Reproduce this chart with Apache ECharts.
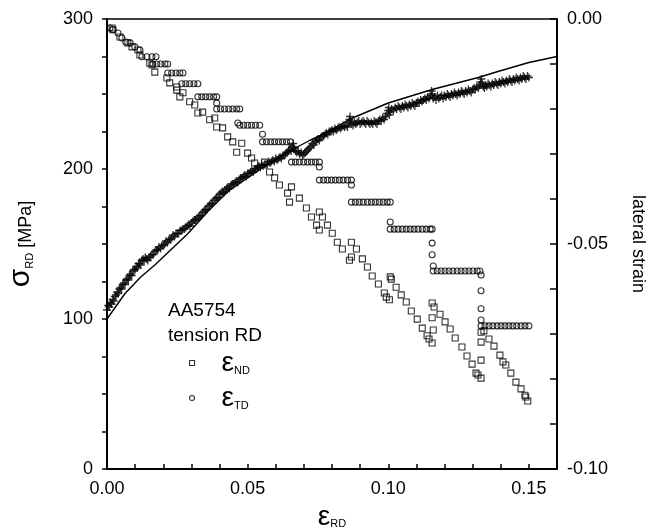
<!DOCTYPE html>
<html><head><meta charset="utf-8">
<script src="https://cdn.jsdelivr.net/npm/echarts@6/dist/echarts.min.js"></script>
<style>html,body{margin:0;padding:0;background:#fff}#c{width:648px;height:529px}</style>
</head><body><div id="c"></div>
<script>
const xTickLabels = ['0.00', '0.05', '0.10', '0.15'];
const leftTickLabels = ['0', '100', '200', '300'];
const rightTickLabels = ['-0.10', '-0.05', '0.00'];
const legendTitle = ['AA5754', 'tension RD'];

// model stress-strain curve [eps_RD, sigma_RD]
const modelCurve = [[0,100],[0.0064,117],[0.012,128],[0.017,136],[0.0288,157],[0.036,172],[0.043,185],[0.050,194],[0.057,203],[0.065,212],[0.072,219],[0.079,225],[0.086,233],[0.100,244],[0.1156,253],[0.132,261],[0.139,265],[0.150,271],[0.160,275]];

// measured stress (crosses) [eps_RD, sigma_RD]
const measuredStress = [[0.0000,106],[0.0004,109],[0.0008,108],[0.0012,111],[0.0016,110],[0.0020,113],[0.0024,112],[0.0028,115],[0.0032,116],[0.0036,118],[0.0040,117],[0.0044,120],[0.0048,121],[0.0052,120],[0.0056,123],[0.0060,124],[0.0064,123],[0.0068,126],[0.0072,127],[0.0076,126],[0.0080,129],[0.0084,130],[0.0088,129],[0.0092,132],[0.0096,133],[0.0100,133],[0.0104,135],[0.0108,134],[0.0112,137],[0.0116,137],[0.0120,136],[0.0124,139],[0.0128,140],[0.0132,139],[0.0136,141],[0.0140,140],[0.0145,139],[0.0150,141],[0.0155,142],[0.0160,143],[0.0165,143],[0.0170,145],[0.0175,146],[0.0180,146],[0.0185,148],[0.0190,147],[0.0195,149],[0.0200,149],[0.0205,150],[0.0210,152],[0.0215,151],[0.0220,153],[0.0225,153],[0.0230,154],[0.0235,156],[0.0240,155],[0.0245,157],[0.0250,157],[0.0255,157],[0.0260,159],[0.0265,159],[0.0270,160],[0.0275,160],[0.0280,161],[0.0285,162],[0.0290,163],[0.0295,162],[0.0300,164],[0.0305,165],[0.0310,166],[0.0315,166],[0.0320,167],[0.0325,168],[0.0330,169],[0.0335,169],[0.0340,171],[0.0345,172],[0.0350,173],[0.0355,173],[0.0360,175],[0.0365,176],[0.0370,177],[0.0375,177],[0.0380,179],[0.0385,180],[0.0390,181],[0.0395,181],[0.0400,183],[0.0405,184],[0.0410,185],[0.0415,184],[0.0420,186],[0.0425,187],[0.0430,188],[0.0435,187],[0.0440,189],[0.0445,190],[0.0450,190],[0.0455,191],[0.0460,192],[0.0465,191],[0.0470,193],[0.0475,194],[0.0480,194],[0.0485,195],[0.0490,196],[0.0495,195],[0.0500,197],[0.0505,197],[0.0510,198],[0.0515,199],[0.0520,198],[0.0525,200],[0.0530,200],[0.0535,201],[0.0540,202],[0.0545,201],[0.0550,203],[0.0555,202],[0.0560,203],[0.0565,203],[0.0570,203],[0.0575,205],[0.0580,204],[0.0585,205],[0.0590,206],[0.0595,205],[0.0600,207],[0.0605,206],[0.0610,207],[0.0615,208],[0.0620,207],[0.0625,209],[0.0630,209],[0.0635,210],[0.0640,211],[0.0645,212],[0.0650,213],[0.0655,212],[0.0660,215],[0.0662,217],[0.0665,214],[0.0670,212],[0.0675,211],[0.0680,212],[0.0685,210],[0.0690,211],[0.0695,209],[0.0700,210],[0.0705,211],[0.0710,212],[0.0715,213],[0.0720,214],[0.0725,215],[0.0730,217],[0.0735,216],[0.0740,218],[0.0745,219],[0.0750,220],[0.0755,219],[0.0760,221],[0.0765,222],[0.0770,222],[0.0775,223],[0.0780,224],[0.0785,223],[0.0790,225],[0.0795,225],[0.0800,226],[0.0805,225],[0.0810,227],[0.0815,226],[0.0820,227],[0.0825,228],[0.0830,227],[0.0835,228],[0.0840,229],[0.0845,228],[0.0850,229],[0.0855,228],[0.0860,231],[0.0862,233],[0.0864,235],[0.0866,232],[0.0870,230],[0.0875,229],[0.0880,231],[0.0885,230],[0.0890,231],[0.0895,232],[0.0900,230],[0.0905,231],[0.0910,232],[0.0915,231],[0.0920,230],[0.0925,232],[0.0930,231],[0.0935,230],[0.0940,231],[0.0945,230],[0.0950,232],[0.0955,231],[0.0960,230],[0.0965,232],[0.0970,233],[0.0975,232],[0.0980,234],[0.0985,233],[0.0990,235],[0.0995,237],[0.1000,239],[0.1002,241],[0.1004,236],[0.1008,238],[0.1012,240],[0.1018,239],[0.1025,241],[0.1030,240],[0.1035,242],[0.1040,241],[0.1045,240],[0.1050,242],[0.1055,241],[0.1060,243],[0.1065,242],[0.1070,241],[0.1075,243],[0.1080,242],[0.1085,244],[0.1090,243],[0.1095,242],[0.1100,244],[0.1105,245],[0.1110,244],[0.1115,246],[0.1120,245],[0.1125,246],[0.1130,247],[0.1135,246],[0.1140,248],[0.1145,247],[0.1150,249],[0.1154,252],[0.1157,250],[0.1160,247],[0.1165,248],[0.1170,246],[0.1175,249],[0.1180,247],[0.1185,248],[0.1190,249],[0.1195,247],[0.1200,249],[0.1205,248],[0.1210,250],[0.1215,249],[0.1220,248],[0.1225,250],[0.1230,249],[0.1235,251],[0.1240,250],[0.1245,249],[0.1250,251],[0.1255,250],[0.1260,252],[0.1265,251],[0.1270,250],[0.1275,252],[0.1280,251],[0.1285,253],[0.1290,252],[0.1295,251],[0.1300,253],[0.1305,254],[0.1310,253],[0.1315,255],[0.1320,254],[0.1325,256],[0.1328,258],[0.1331,260],[0.1334,257],[0.1338,255],[0.1342,254],[0.1346,256],[0.1350,255],[0.1355,257],[0.1360,256],[0.1365,255],[0.1370,257],[0.1375,256],[0.1380,258],[0.1385,257],[0.1390,256],[0.1395,258],[0.1400,257],[0.1405,259],[0.1410,258],[0.1415,257],[0.1420,259],[0.1425,258],[0.1430,260],[0.1435,259],[0.1440,258],[0.1445,260],[0.1450,259],[0.1455,261],[0.1460,260],[0.1465,259],[0.1470,261],[0.1475,260],[0.1480,262],[0.1485,261],[0.1490,260],[0.1495,262],[0.1500,261]];

// lateral strain eps_ND (squares) [eps_RD, eps_ND]
const strainND = [[0.0018,-0.0020],[0.0021,-0.0024],[0.0046,-0.0040],[0.0074,-0.0053],[0.0089,-0.0062],[0.0110,-0.0069],[0.0117,-0.0080],[0.0152,-0.0098],[0.0160,-0.0102],[0.0170,-0.0118],[0.0213,-0.0131],[0.0223,-0.0142],[0.0248,-0.0151],[0.0248,-0.0158],[0.0259,-0.0173],[0.0270,-0.0164],[0.0294,-0.0184],[0.0312,-0.0191],[0.0323,-0.0209],[0.0340,-0.0207],[0.0365,-0.0224],[0.0383,-0.0220],[0.0390,-0.0240],[0.0411,-0.0242],[0.0429,-0.0262],[0.0447,-0.0273],[0.0461,-0.0296],[0.0479,-0.0276],[0.0500,-0.0298],[0.0514,-0.0309],[0.0525,-0.0320],[0.0560,-0.0318],[0.0578,-0.0340],[0.0596,-0.0353],[0.0613,-0.0369],[0.0642,-0.0387],[0.0649,-0.0407],[0.0656,-0.0373],[0.0684,-0.0398],[0.0709,-0.0420],[0.0727,-0.0440],[0.0755,-0.0429],[0.0766,-0.0440],[0.0745,-0.0458],[0.0755,-0.0469],[0.0784,-0.0458],[0.0801,-0.0476],[0.0819,-0.0496],[0.0837,-0.0511],[0.0869,-0.0496],[0.0887,-0.0511],[0.0869,-0.0529],[0.0862,-0.0536],[0.0908,-0.0533],[0.0926,-0.0551],[0.0943,-0.0571],[0.0965,-0.0589],[0.0986,-0.0609],[0.0993,-0.0618],[0.1004,-0.0624],[0.1007,-0.0573],[0.1011,-0.0578],[0.1028,-0.0596],[0.1046,-0.0613],[0.1064,-0.0629],[0.1082,-0.0649],[0.1103,-0.0667],[0.1121,-0.0687],[0.1138,-0.0704],[0.1145,-0.0711],[0.1156,-0.0720],[0.1156,-0.0631],[0.1163,-0.0640],[0.1156,-0.0664],[0.1160,-0.0691],[0.1184,-0.0656],[0.1202,-0.0673],[0.1220,-0.0689],[0.1238,-0.0709],[0.1262,-0.0729],[0.1280,-0.0749],[0.1298,-0.0767],[0.1312,-0.0787],[0.1319,-0.0791],[0.1330,-0.0798],[0.1330,-0.0758],[0.1330,-0.0718],[0.1330,-0.0696],[0.1340,-0.0693],[0.1358,-0.0711],[0.1376,-0.0727],[0.1397,-0.0747],[0.1408,-0.0762],[0.1418,-0.0769],[0.1436,-0.0787],[0.1454,-0.0807],[0.1472,-0.0822],[0.1486,-0.0836],[0.1489,-0.0840],[0.1496,-0.0849]];

// lateral strain eps_TD (circles) [eps_RD, eps_TD]
const strainTD = [[0.0011,-0.0020],[0.0021,-0.0024],[0.0039,-0.0031],[0.0053,-0.0042],[0.0067,-0.0051],[0.0082,-0.0053],[0.0099,-0.0062],[0.0117,-0.0069],
[0.0124,-0.0084],[0.0142,-0.0084],[0.0160,-0.0084],[0.0174,-0.0084],
[0.0163,-0.0100],[0.0177,-0.0100],[0.0191,-0.0100],[0.0206,-0.0100],[0.0216,-0.0100],
[0.0216,-0.0120],[0.0230,-0.0120],[0.0245,-0.0120],[0.0259,-0.0120],[0.0270,-0.0120],
[0.0266,-0.0144],[0.0280,-0.0144],[0.0294,-0.0144],[0.0309,-0.0144],[0.0323,-0.0144],
[0.0323,-0.0173],[0.0337,-0.0173],[0.0351,-0.0173],[0.0365,-0.0173],[0.0379,-0.0173],[0.0390,-0.0173],
[0.0390,-0.0187],
[0.0390,-0.0200],[0.0404,-0.0200],[0.0418,-0.0200],[0.0433,-0.0200],[0.0447,-0.0200],[0.0461,-0.0200],[0.0472,-0.0200],
[0.0465,-0.0231],
[0.0472,-0.0236],[0.0486,-0.0236],[0.0500,-0.0236],[0.0514,-0.0236],[0.0528,-0.0236],[0.0543,-0.0236],
[0.0553,-0.0256],
[0.0553,-0.0273],[0.0567,-0.0273],[0.0582,-0.0273],[0.0596,-0.0273],[0.0610,-0.0273],[0.0624,-0.0273],[0.0638,-0.0273],[0.0652,-0.0273],
[0.0656,-0.0287],
[0.0656,-0.0318],[0.0670,-0.0318],[0.0684,-0.0318],[0.0699,-0.0318],[0.0713,-0.0318],[0.0727,-0.0318],[0.0741,-0.0318],[0.0755,-0.0318],
[0.0755,-0.0329],
[0.0755,-0.0358],[0.0770,-0.0358],[0.0784,-0.0358],[0.0798,-0.0358],[0.0812,-0.0358],[0.0826,-0.0358],[0.0840,-0.0358],[0.0855,-0.0358],[0.0869,-0.0358],
[0.0869,-0.0369],
[0.0869,-0.0407],[0.0883,-0.0407],[0.0897,-0.0407],[0.0911,-0.0407],[0.0926,-0.0407],[0.0940,-0.0407],[0.0954,-0.0407],[0.0968,-0.0407],[0.0982,-0.0407],[0.0996,-0.0407],[0.1007,-0.0407],
[0.1007,-0.0451],
[0.1007,-0.0467],[0.1021,-0.0467],[0.1035,-0.0467],[0.1050,-0.0467],[0.1064,-0.0467],[0.1078,-0.0467],[0.1092,-0.0467],[0.1106,-0.0467],[0.1121,-0.0467],[0.1135,-0.0467],[0.1149,-0.0467],[0.1156,-0.0467],
[0.1156,-0.0498],[0.1156,-0.0524],[0.1160,-0.0549],
[0.1160,-0.0560],[0.1174,-0.0560],[0.1188,-0.0560],[0.1202,-0.0560],[0.1216,-0.0560],[0.1230,-0.0560],[0.1245,-0.0560],[0.1259,-0.0560],[0.1273,-0.0560],[0.1287,-0.0560],[0.1301,-0.0560],[0.1316,-0.0560],[0.1326,-0.0560],
[0.1330,-0.0569],[0.1330,-0.0604],[0.1330,-0.0644],[0.1330,-0.0669],
[0.1330,-0.0682],[0.1344,-0.0682],[0.1358,-0.0682],[0.1372,-0.0682],[0.1387,-0.0682],[0.1401,-0.0682],[0.1415,-0.0682],[0.1429,-0.0682],[0.1443,-0.0682],[0.1457,-0.0682],[0.1472,-0.0682],[0.1486,-0.0682],[0.1500,-0.0682]];

const FONT = '"Liberation Sans", Arial, Helvetica, sans-serif';
const hollow = {color: 'rgba(255,255,255,0)', borderColor: '#000', borderWidth: 1.1};
const chart = echarts.init(document.getElementById('c'), null, {renderer: 'canvas'});

const fmtPick = (list, digits) => v => {
  if (Math.abs(v) < 1e-9) v = 0;
  const s = v.toFixed(digits);
  return list.includes(s) ? s : '';
};

chart.setOption({
  animation: false,
  backgroundColor: '#fff',
  textStyle: {fontFamily: FONT, color: '#000'},
  grid: {left: 107, right: 91, top: 19, bottom: 60, show: true, borderColor: '#000', borderWidth: 1.5, backgroundColor: 'transparent', containLabel: false, outerBoundsMode: 'none'},
  xAxis: [{
    type: 'value', min: 0, max: 0.16, interval: 0.01,
    axisLine: {show: true, onZero: false, lineStyle: {color: '#000', width: 2}},
    axisTick: {show: true, inside: true, length: 5, lineStyle: {color: '#000', width: 1.5}},
    axisLabel: {formatter: fmtPick(xTickLabels, 2), fontSize: 18, color: '#000', margin: 11, fontFamily: FONT},
    splitLine: {show: false},
    name: '{e|ε}{s|RD}', nameLocation: 'middle', nameGap: 28,
    nameTextStyle: {rich: {e: {fontSize: 28, lineHeight: 26, fontFamily: FONT, color: '#000'}, s: {fontSize: 11, lineHeight: 11, verticalAlign: 'bottom', fontFamily: FONT, color: '#000'}}}
  }],
  yAxis: [{
    type: 'value', min: 0, max: 300, interval: 25, position: 'left',
    axisLine: {show: true, onZero: false, lineStyle: {color: '#000', width: 2}},
    axisTick: {show: true, inside: false, length: 5, lineStyle: {color: '#000', width: 1.5}},
    axisLabel: {formatter: v => leftTickLabels.includes(String(Math.round(v))) && Math.abs(v % 100) < 1e-6 ? String(Math.round(v)) : '', fontSize: 18, color: '#000', margin: 14, fontFamily: FONT},
    splitLine: {show: false},
    name: '{e|σ}{s|RD}{t| [MPa]}', nameLocation: 'middle', nameGap: 72, nameRotate: 90,
    nameTextStyle: {rich: {e: {fontSize: 30, lineHeight: 28, fontFamily: FONT, color: '#000'}, s: {fontSize: 11, lineHeight: 12, verticalAlign: 'bottom', fontFamily: FONT, color: '#000'}, t: {fontSize: 18, lineHeight: 24, verticalAlign: 'bottom', fontFamily: FONT, color: '#000'}}}
  }, {
    type: 'value', min: -0.10, max: 0, interval: 0.01, position: 'right',
    axisLine: {show: true, onZero: false, lineStyle: {color: '#000', width: 2}},
    axisTick: {show: true, inside: true, length: 7, lineStyle: {color: '#000', width: 1.5}},
    axisLabel: {formatter: fmtPick(rightTickLabels, 2), fontSize: 18, color: '#000', margin: 10, fontFamily: FONT},
    splitLine: {show: false},
    name: 'lateral strain', nameLocation: 'middle', nameGap: 72, nameRotate: -90,
    nameTextStyle: {fontSize: 18, color: '#000', fontFamily: FONT}
  }],
  legend: {
    show: true, orient: 'vertical', left: 189, top: 349, padding: 0, itemGap: 7,
    itemWidth: 5, itemHeight: 5, selectedMode: false,
    data: [
      {name: 'εND', icon: 'rect', itemStyle: hollow},
      {name: 'εTD', icon: 'circle', itemStyle: hollow}
    ],
    formatter: name => '{pad|}{e|ε}{s|' + name.slice(1) + '}',
    textStyle: {rich: {
      pad: {width: 22},
      e: {fontSize: 28, lineHeight: 26, fontFamily: FONT, color: '#000'},
      s: {fontSize: 11, lineHeight: 11, verticalAlign: 'bottom', fontFamily: FONT, color: '#000'}
    }}
  },
  graphic: [
    {type: 'text', left: 168, top: 301, style: {text: legendTitle[0], fontSize: 19, fontFamily: FONT, fill: '#000'}},
    {type: 'text', left: 168, top: 326, style: {text: legendTitle[1], fontSize: 19, fontFamily: FONT, fill: '#000'}}
  ],
  series: [
    {type: 'line', name: 'model', data: modelCurve, xAxisIndex: 0, yAxisIndex: 0, symbol: 'none', showSymbol: false,
     lineStyle: {color: '#000', width: 1.4}, silent: true, z: 4},
    {type: 'scatter', name: 'σRD', data: measuredStress, xAxisIndex: 0, yAxisIndex: 0,
     symbol: 'path://M0,5L10,5M5,0L5,10', symbolSize: 8,
     itemStyle: {color: 'rgba(0,0,0,0)', borderColor: '#000', borderWidth: 1.3}, silent: true, z: 3},
    {type: 'scatter', name: 'εND', data: strainND, xAxisIndex: 0, yAxisIndex: 1,
     symbol: 'rect', symbolSize: 6, itemStyle: hollow, silent: true, z: 2},
    {type: 'scatter', name: 'εTD', data: strainTD, xAxisIndex: 0, yAxisIndex: 1,
     symbol: 'circle', symbolSize: 6, itemStyle: hollow, silent: true, z: 2}
  ]
});
</script></body></html>
